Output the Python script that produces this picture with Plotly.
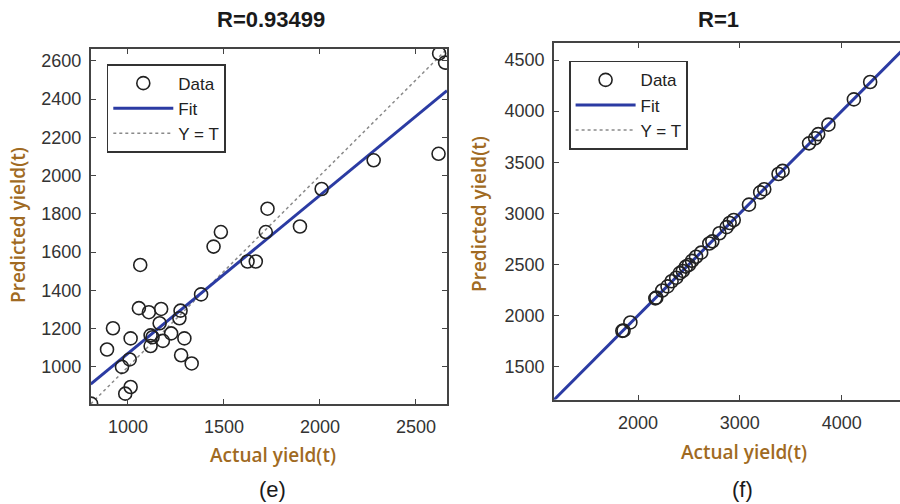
import plotly.graph_objects as go

# ---------------- data ----------------
# panel (e)
e_actual = [2621, 2652, 2618, 2280, 2009, 1896, 1727, 1718, 1666, 1623, 1484, 1446,
            1064, 1381, 1057, 1109, 1173, 1274, 1268, 1165, 922, 1014, 1225, 1294,
            1128, 1118, 1182, 1118, 891, 1277, 1332, 1009, 969, 1014, 986, 808]
e_pred = [2638, 2591, 2114, 2080, 1930, 1734, 1827, 1705, 1551, 1551, 1705, 1629,
          1533, 1379, 1307, 1286, 1303, 1294, 1254, 1228, 1202, 1149, 1175, 1149,
          1155, 1165, 1136, 1109, 1091, 1061, 1018, 1039, 1000, 895, 860, 808]
e_fit_slope = 0.827
e_fit_intercept = 243
e_limits = [806, 2662]
e_yticks = [1000, 1200, 1400, 1600, 1800, 2000, 2200, 2400, 2600]
e_xticks = [1000, 1500, 2000, 2500]
e_title = "R=0.93499"

# panel (f)
f_actual = [1846, 1858, 1925, 2170, 2180, 2238, 2290, 2330, 2375, 2410, 2440, 2470,
            2500, 2530, 2570, 2620, 2700, 2730, 2800, 2870, 2900, 2940, 3090, 3200,
            3240, 3380, 3420, 3680, 3740, 3770, 3870, 4120, 4280]
f_pred = [1850, 1852, 1932, 2168, 2175, 2245, 2285, 2335, 2370, 2415, 2436, 2478,
          2495, 2535, 2575, 2615, 2705, 2726, 2805, 2865, 2905, 2935, 3085, 3205,
          3236, 3385, 3415, 3685, 3735, 3775, 3868, 4115, 4285]
f_fit_slope = 1.0
f_fit_intercept = 0.0
f_xlimits = [1175, 4573]
f_ylimits = [1178, 4664]
f_xticks = [2000, 3000, 4000]
f_yticks = [1500, 2000, 2500, 3000, 3500, 4000, 4500]
f_title = "R=1"

x_label = "Actual yield(t)"
y_label = "Predicted yield(t)"
panel_labels = ["(e)", "(f)"]

# ---------------- styling ----------------
W, H = 900, 504
FIT_COLOR = "#2b3ba3"
DATA_COLOR = "#222222"
YT_COLOR = "#8a8a8a"
AXIS_COLOR = "#444444"
TICK_FONT = dict(family="Liberation Sans, Arial, sans-serif", size=18, color="#333333")
LABEL_COLOR = "#a06a22"
LABEL_FONT = dict(family="Open Sans, sans-serif", size=19, color=LABEL_COLOR, weight=600)


def px_x(p):
    return p / W


def px_y(p):
    return 1 - p / H


fig = go.Figure()


def add_panel(actual, pred, slope, intercept, xlim, ylim, xaxis, yaxis, legend):
    lo = min(xlim[0], ylim[0])
    hi = max(xlim[1], ylim[1])
    line_x = [lo, hi]
    fig.add_trace(go.Scatter(
        x=line_x, y=line_x, mode="lines", name="Y = T",
        line=dict(color=YT_COLOR, width=1.5, dash="dot"),
        xaxis=xaxis, yaxis=yaxis, legend=legend, legendrank=3))
    fig.add_trace(go.Scatter(
        x=line_x, y=[slope * v + intercept for v in line_x], mode="lines", name="Fit",
        line=dict(color=FIT_COLOR, width=3),
        xaxis=xaxis, yaxis=yaxis, legend=legend, legendrank=2))
    fig.add_trace(go.Scatter(
        x=actual, y=pred, mode="markers", name="Data",
        marker=dict(symbol="circle-open", size=13, color=DATA_COLOR,
                    line=dict(width=1.6, color=DATA_COLOR)),
        xaxis=xaxis, yaxis=yaxis, legend=legend, legendrank=1))


add_panel(e_actual, e_pred, e_fit_slope, e_fit_intercept, e_limits, e_limits,
          "x", "y", "legend")
add_panel(f_actual, f_pred, f_fit_slope, f_fit_intercept, f_xlimits, f_ylimits,
          "x2", "y2", "legend2")

axis_common = dict(showgrid=False, zeroline=False, showline=True, linecolor=AXIS_COLOR,
                   linewidth=1.6, ticks="inside", ticklen=5, tickwidth=1.3,
                   tickcolor=AXIS_COLOR, tickfont=TICK_FONT)

legend_common = dict(xanchor="left", yanchor="top", bgcolor="white", bordercolor="#333333",
                     borderwidth=1.6, font=dict(family="Liberation Sans, Arial, sans-serif",
                                                size=17, color="#222222"),
                     itemwidth=60, tracegroupgap=0)

fig.update_layout(
    width=W, height=H,
    margin=dict(l=0, r=0, t=0, b=0),
    paper_bgcolor="white", plot_bgcolor="white",
    xaxis=dict(domain=[px_x(90.7), px_x(447)], range=e_limits, tickvals=e_xticks,
               mirror="ticks", anchor="y", ticklabelstandoff=6, **axis_common),
    yaxis=dict(domain=[px_y(404), px_y(49)], range=e_limits, tickvals=e_yticks,
               mirror="ticks", anchor="x", ticklabelstandoff=4, **axis_common),
    xaxis2=dict(domain=[px_x(554), 1.0], range=f_xlimits, tickvals=f_xticks,
                mirror="ticks", anchor="y2", ticklabelstandoff=6, **axis_common),
    yaxis2=dict(domain=[px_y(399.5), px_y(43.3)], range=f_ylimits, tickvals=f_yticks,
                mirror=False, anchor="x2", ticklabelstandoff=4, **axis_common),
    legend=dict(x=px_x(106.7), y=px_y(64), **legend_common),
    legend2=dict(x=px_x(569), y=px_y(60.7), **legend_common),
    showlegend=True,
)

annotations = [
    dict(text="<b>%s</b>" % e_title, x=px_x(271), y=px_y(20)),
    dict(text="<b>%s</b>" % f_title, x=px_x(718), y=px_y(20)),
]
title_font = dict(family="Liberation Sans, Arial, sans-serif", size=22, color="#1a1a1a")
for a in annotations:
    fig.add_annotation(xref="paper", yref="paper", showarrow=False, font=title_font,
                       xanchor="center", yanchor="middle", **a)

for cx, cy in [(273, 455), (744, 452)]:
    fig.add_annotation(xref="paper", yref="paper", x=px_x(cx), y=px_y(cy), text=x_label,
                       showarrow=False, font=LABEL_FONT, xanchor="center", yanchor="middle")
for cx, cy in [(18, 225), (479, 214)]:
    fig.add_annotation(xref="paper", yref="paper", x=px_x(cx), y=px_y(cy), text=y_label,
                       showarrow=False, font=LABEL_FONT, textangle=-90,
                       xanchor="center", yanchor="middle")
for lab, cx in zip(panel_labels, [272, 742]):
    fig.add_annotation(xref="paper", yref="paper", x=px_x(cx), y=px_y(489), text=lab,
                       showarrow=False,
                       font=dict(family="Liberation Sans, Arial, sans-serif", size=22,
                                 color="#1a1a1a"),
                       xanchor="center", yanchor="middle")

fig.write_html("out.html")
